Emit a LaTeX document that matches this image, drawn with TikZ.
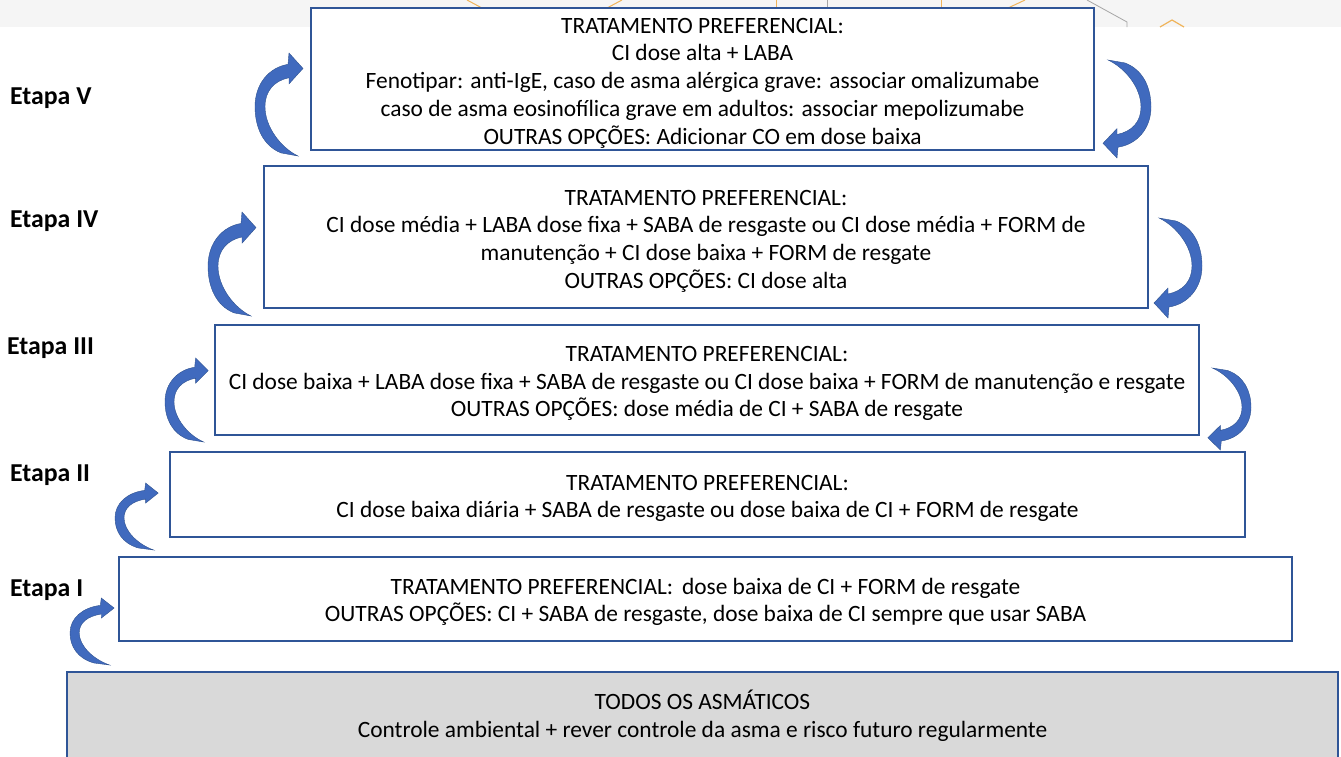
\documentclass[tikz,border=0pt]{standalone}
\usepackage{fontspec}
\setmainfont{Carlito}
\definecolor{boxborder}{RGB}{47,85,151}
\definecolor{arrowfill}{RGB}{64,106,190}
\definecolor{arrowedge}{RGB}{47,82,143}
\definecolor{stripgray}{RGB}{245,245,245}
\definecolor{bgorange}{RGB}{240,180,90}
\definecolor{bggray}{RGB}{165,165,165}
\definecolor{basegray}{RGB}{217,217,217}
\begin{document}
\begin{tikzpicture}[x=1pt,y=-1pt,
  stepbox/.style={draw=boxborder, line width=1.2pt, fill=white, inner sep=0pt},
  boxtext/.style={inner sep=0pt, align=center, font=\fontsize{23.4}{27.7}\selectfont, text=black},
  etapa/.style={anchor=west, inner sep=0pt, font=\fontsize{25.8}{28}\selectfont\bfseries},
  curv/.style={fill=arrowfill, draw=arrowedge, line width=0.4pt}]
\def\arrowpath{(26,97) .. controls (8,90) and (0,72) .. (0,52) .. controls (0,30) and (14,14) .. (33,11) -- (34,0) -- (48,15) -- (34,30) -- (34,24) .. controls (19,27) and (10,37) .. (10,52) .. controls (10,72) and (26,92) .. (43,100) -- cycle}
\useasboundingbox (0,0) rectangle (1341,756);
% background strip
\fill[stripgray] (0,0) rectangle (1341,27);
\draw[bgorange, line width=1pt] (467,0) -- (482,8);
\draw[bgorange, line width=1pt] (607,8) -- (622,0);
\draw[bgorange, line width=1pt] (776,0) -- (776,8);
\draw[bggray, line width=0.8pt] (827,0) -- (827,8);
\draw[bgorange, line width=1pt] (941,0) -- (941,8);
\draw[bgorange, line width=1pt] (1008,8) -- (1025,0);
\draw[bggray, line width=0.8pt] (1087,0) -- (1127,22) -- (1127,27);
\draw[bgorange, line width=1.2pt] (1160,27) -- (1172,20) -- (1184,27);
% boxes
\node[stepbox, minimum width=783pt, minimum height=142pt] (b5) at (702.5,79) {};
\node[boxtext] (t5) at (702.5,83)
 {TRATAMENTO PREFERENCIAL:\\CI dose alta + LABA\\Fenotipar: anti-IgE, caso de asma alérgica grave: associar omalizumabe\\caso de asma eosinofílica grave em adultos: associar mepolizumabe\\OUTRAS OPÇÕES: Adicionar CO em dose baixa};
\node[stepbox, minimum width=884pt, minimum height=142pt] (b4) at (706,237) {};
\node[boxtext] (t4) at (706,241)
 {TRATAMENTO PREFERENCIAL:\\CI dose média + LABA dose fixa + SABA de resgaste ou CI dose média + FORM de\\manutenção + CI dose baixa + FORM de resgate\\OUTRAS OPÇÕES: CI dose alta};
\node[stepbox, minimum width=984pt, minimum height=110pt] (b3) at (707,380) {};
\node[boxtext] (t3) at (707,383.5)
 {TRATAMENTO PREFERENCIAL:\\CI dose baixa + LABA dose fixa + SABA de resgaste ou CI dose baixa + FORM de manutenção e resgate\\OUTRAS OPÇÕES: dose média de CI + SABA de resgate};
\node[stepbox, minimum width=1075pt, minimum height=85pt] (b2) at (707.5,494.5) {};
\node[boxtext] (t2) at (707.5,498.5)
 {TRATAMENTO PREFERENCIAL:\\CI dose baixa diária + SABA de resgaste ou dose baixa de CI + FORM de resgate};
\node[stepbox, minimum width=1173pt, minimum height=84pt] (b1) at (705.5,599) {};
\node[boxtext] (t1) at (705.5,602)
 {TRATAMENTO PREFERENCIAL:\hspace{0.15em} dose baixa de CI + FORM de resgate\\OUTRAS OPÇÕES: CI + SABA de resgaste, dose baixa de CI sempre que usar SABA};
\draw[boxborder, line width=1.2pt, fill=basegray] (67,672) rectangle (1338,790);
\node[boxtext] (b0) at (702.5,716)
 {TODOS OS ASMÁTICOS\\Controle ambiental + rever controle da asma e risco futuro regularmente};
% labels
\node[etapa] (e5) at (10,98) {Etapa V};
\node[etapa] (e4) at (10,221) {Etapa IV};
\node[etapa] (e3) at (7,348) {Etapa III};
\node[etapa] (e2) at (10,475) {Etapa II};
\node[etapa] (e1) at (10,590) {Etapa I};
% left curved arrows
\fill[curv, shift={(255,53)}, yscale=1.03] \arrowpath;
\fill[curv, shift={(208,212)}, yscale=1.04] \arrowpath;
\fill[curv, shift={(165,358)}, xscale=0.9, yscale=0.84] \arrowpath;
\fill[curv, shift={(115,483)}, xscale=0.9, yscale=0.67] \arrowpath;
\fill[curv, shift={(70,598)}, xscale=0.92, yscale=0.67] \arrowpath;
% right curved arrows
\fill[curv, shift={(1151,158)}, rotate=180, yscale=0.98] \arrowpath;
\fill[curv, shift={(1202,318)}, rotate=180, yscale=1.0] \arrowpath;
\fill[curv, shift={(1251,450)}, rotate=180, xscale=0.9, yscale=0.82] \arrowpath;
\end{tikzpicture}
\end{document}
